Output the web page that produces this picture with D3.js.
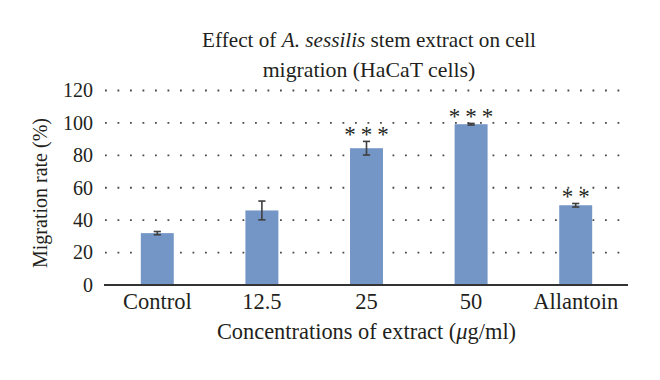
<!DOCTYPE html>
<html>
<head>
<meta charset="utf-8">
<script src="https://cdn.jsdelivr.net/npm/d3@7"></script>
<style>
  html, body { margin: 0; padding: 0; background: #fff; }
  svg { display: block; }
  text { font-family: "Liberation Serif", "Times New Roman", serif; fill: #231f20; }
</style>
</head>
<body>
<svg id="chart" width="660" height="380"></svg>
<script>
// ---- data ----
const categories = ["Control", "12.5", "25", "50", "Allantoin"];
const migrationRate = [32, 46, 84.4, 99.2, 49.2];
const errorValues = [1.0, 5.8, 4.2, 0.5, 1.1];
const significance = ["", "", "***", "***", "**"];
const yTicks = [0, 20, 40, 60, 80, 100, 120];
const titleLine1 = ["Effect of ", "A. sessilis", " stem extract on cell"];
const titleLine2 = "migration (HaCaT cells)";
const xTitle = "Concentrations of extract (";
const xTitleMu = "\u03bc";
const xTitleEnd = "g/ml)";
const yTitle = "Migration rate (%)";

// ---- layout ----
const svg = d3.select("#chart");
const plotLeft = 105, plotRight = 628, plotTop = 90.5, plotBottom = 285;

const x = d3.scaleBand().domain(categories).range([plotLeft, plotRight])
  .paddingInner(0.685).paddingOuter(0.3425);
const y = d3.scaleLinear().domain([0, 120]).range([plotBottom, plotTop]);

// gridlines (dotted)
svg.append("g").selectAll("line").data(yTicks.filter(d => d > 0)).join("line")
  .attr("x1", plotLeft).attr("x2", plotRight - 4)
  .attr("y1", d => y(d)).attr("y2", d => y(d))
  .attr("stroke", "#4a4a4a").attr("stroke-width", 1.8)
  .attr("stroke-dasharray", "1.8,10.7");

// y tick labels via axis
const yAxis = d3.axisLeft(y).tickValues(yTicks).tickSize(0).tickPadding(0);
const yg = svg.append("g").attr("transform", `translate(${plotLeft - 12},0)`).call(yAxis);
yg.select(".domain").remove();
yg.selectAll("text").attr("font-size", 20).attr("fill", "#231f20")
  .style("font-family", '"Liberation Serif", serif');

// bars
svg.append("g").selectAll("rect").data(categories).join("rect")
  .attr("x", d => x(d)).attr("width", x.bandwidth())
  .attr("y", (d, i) => y(migrationRate[i]))
  .attr("height", (d, i) => y(0) - y(migrationRate[i]))
  .attr("fill", "#7396c6");

// error bars
const eg = svg.append("g").attr("stroke", "#3f3f3f").attr("stroke-width", 1.6);
categories.forEach((c, i) => {
  const cx = x(c) + x.bandwidth() / 2;
  const y1 = y(migrationRate[i] + errorValues[i]);
  const y2 = y(migrationRate[i] - errorValues[i]);
  eg.append("line").attr("x1", cx).attr("x2", cx).attr("y1", y1).attr("y2", y2);
  eg.append("line").attr("x1", cx - 3.6).attr("x2", cx + 3.6).attr("y1", y1).attr("y2", y1);
  eg.append("line").attr("x1", cx - 3.6).attr("x2", cx + 3.6).attr("y1", y2).attr("y2", y2);
});

// significance stars
const starSpacing = 5;
svg.append("g").selectAll("text").data(categories).join("text")
  .attr("x", d => x(d) + x.bandwidth() / 2 + starSpacing / 2)
  .attr("y", (d, i) => y(migrationRate[i] + errorValues[i]) + 1)
  .attr("text-anchor", "middle")
  .attr("font-size", 23).attr("letter-spacing", starSpacing)
  .text((d, i) => significance[i]);

// x axis line
const xAxis = d3.axisBottom(x).tickSize(0).tickPadding(0);
const xg = svg.append("g").attr("transform", `translate(0,${plotBottom})`).call(xAxis);
xg.select(".domain").attr("stroke", "#333").attr("stroke-width", 1.8)
  .attr("d", `M${plotLeft - 1},0H${plotRight}`);
xg.selectAll("text").attr("font-size", 22.5).attr("fill", "#231f20")
  .attr("dy", null).attr("y", 24)
  .style("font-family", '"Liberation Serif", serif');

// title
const t1 = svg.append("text").attr("x", 369).attr("y", 47)
  .attr("text-anchor", "middle").attr("font-size", 21.2);
t1.append("tspan").text(titleLine1[0]);
t1.append("tspan").attr("font-style", "italic").text(titleLine1[1]);
t1.append("tspan").text(titleLine1[2]);
svg.append("text").attr("x", 369).attr("y", 77)
  .attr("text-anchor", "middle").attr("font-size", 21.8).text(titleLine2);

// x title
const xt = svg.append("text").attr("x", 366.5).attr("y", 339)
  .attr("text-anchor", "middle").attr("font-size", 22.4);
xt.append("tspan").text(xTitle);
xt.append("tspan").attr("font-style", "italic").text(xTitleMu);
xt.append("tspan").text(xTitleEnd);

// y title
svg.append("text").attr("transform", "translate(47,193) rotate(-90)")
  .attr("text-anchor", "middle").attr("font-size", 20).text(yTitle);
</script>
</body>
</html>
